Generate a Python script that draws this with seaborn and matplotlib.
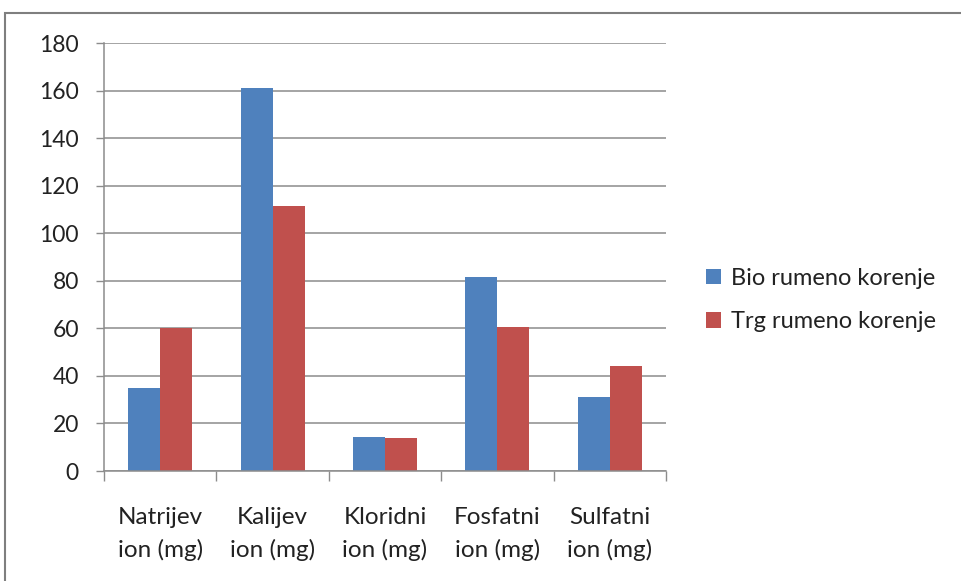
import numpy as np
import pandas as pd
import matplotlib
matplotlib.use("Agg")
import matplotlib.pyplot as plt
from matplotlib.patches import Rectangle
from matplotlib.ticker import FixedLocator
import seaborn as sns

# podatki, odčitani s slike
kategorije = ["Natrijev\nion (mg)", "Kalijev\nion (mg)", "Kloridni\nion (mg)",
              "Fosfatni\nion (mg)", "Sulfatni\nion (mg)"]
serije = ["Bio rumeno korenje", "Trg rumeno korenje"]
bio = [35, 161, 14.5, 81.5, 31]
trg = [60, 111.5, 14, 60.5, 44]
barve = ["#4F81BD", "#C0504D"]

df = pd.DataFrame({
    "kategorija": kategorije * 2,
    "serija": [serije[0]] * len(bio) + [serije[1]] * len(trg),
    "vrednost": bio + trg,
})

sns.set_theme(style="white")
plt.rcParams['font.family'] = ['Lato', 'DejaVu Sans']

fig = plt.figure(figsize=(9.62, 5.81), dpi=100)
ax = fig.add_axes([104 / 962, 1 - 471 / 581, 562 / 962, 428 / 581])

sns.barplot(data=df, x="kategorija", y="vrednost", hue="serija",
            order=kategorije, hue_order=serije, palette=barve,
            width=0.571, gap=0, saturation=1, edgecolor="none", ax=ax)

ax.set_ylim(0, 180)
ax.set_xlim(-0.5, len(kategorije) - 0.5)
ax.set_yticks(np.arange(0, 181, 20))
ax.yaxis.grid(True, color="#8c8c8c", linewidth=1.1)
ax.set_axisbelow(True)
ax.set_xlabel("")
ax.set_ylabel("")

for s in ["top", "right"]:
    ax.spines[s].set_visible(False)
for s in ["left", "bottom"]:
    ax.spines[s].set_color("#8c8c8c")
    ax.spines[s].set_linewidth(1.1)

ax.tick_params(axis="y", which="major", length=6, color="#8c8c8c", width=1,
               labelsize=16.5, pad=12, direction="out", left=True,
               labelcolor="#222222")
ax.tick_params(axis="x", which="major", length=0, labelsize=17.5, pad=26,
               labelcolor="#222222")
ax.xaxis.set_minor_locator(FixedLocator(np.arange(-0.5, len(kategorije), 1)))
ax.tick_params(axis="x", which="minor", length=7, color="#8c8c8c", width=1,
               direction="out", bottom=True)
for t in ax.get_xticklabels():
    t.set_linespacing(1.6)

leg = ax.legend(loc="center left", bbox_to_anchor=(706 / 962, 1 - 300 / 581),
                bbox_transform=fig.transFigure, frameon=False, fontsize=17,
                handlelength=0.64, handleheight=0.64, handletextpad=0.4,
                labelspacing=0.95, borderpad=0, borderaxespad=0)
for t in leg.get_texts():
    t.set_color("#222222")

# okvir grafikona
fig.patches.append(Rectangle((5 / 962, -0.1), 1.2, 1 - 13 / 581 + 0.1,
                             transform=fig.transFigure, fill=False,
                             edgecolor="#7f7f7f", linewidth=1.5))

fig.savefig("out.png", dpi=100)
